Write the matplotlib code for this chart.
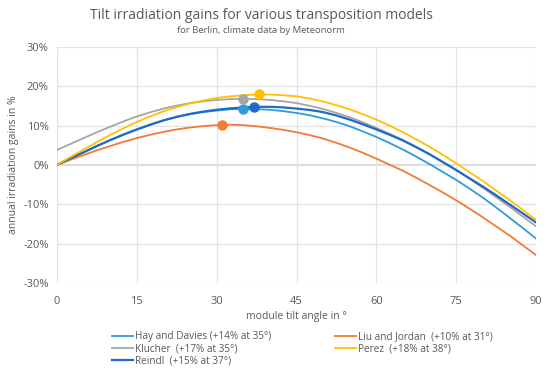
import matplotlib.pyplot as plt
from matplotlib.ticker import FuncFormatter

plt.rcParams['font.family'] = ['Open Sans', 'DejaVu Sans']

# tilt angles in degrees
angles = [0, 2.5, 5, 7.5, 10, 12.5, 15, 17.5, 20, 22.5, 25, 27.5, 30, 32.5, 35, 37.5,
          40, 42.5, 45, 47.5, 50, 52.5, 55, 57.5, 60, 62.5, 65, 67.5, 70, 72.5, 75,
          77.5, 80, 82.5, 85, 87.5, 90]

# annual irradiation gains in %
hay = [0, 1.65, 3.2, 4.8, 6.3, 7.7, 9.0, 10.2, 11.3, 12.2, 12.9, 13.4, 13.8, 14.1, 14.2, 14.15,
       14.0, 13.65, 13.2, 12.6, 11.8, 10.9, 9.8, 8.5, 7.1, 5.55, 3.9, 2.1, 0.2, -1.8, -3.8,
       -6.0, -8.3, -10.8, -13.4, -16.0, -18.7]
liu = [0, 1.3, 2.5, 3.7, 4.8, 5.85, 6.8, 7.65, 8.4, 9.0, 9.5, 9.85, 10.1, 10.2, 10.1, 9.8,
       9.4, 8.9, 8.3, 7.55, 6.7, 5.6, 4.4, 3.05, 1.6, 0.05, -1.5, -3.25, -5.1, -7.0, -9.0,
       -11.1, -13.3, -15.6, -17.9, -20.4, -22.9]
klucher = [3.8, 5.3, 6.8, 8.3, 9.7, 11.05, 12.3, 13.35, 14.3, 15.05, 15.7, 16.15, 16.5, 16.7, 16.75, 16.7,
           16.5, 16.15, 15.7, 15.0, 14.2, 13.2, 12.1, 10.8, 9.4, 7.9, 6.3, 4.55, 2.7, 0.75, -1.3,
           -3.5, -5.8, -8.2, -10.6, -13.1, -15.6]
perez = [0, 2.0, 3.9, 5.8, 7.6, 9.3, 10.9, 12.3, 13.6, 14.65, 15.6, 16.35, 17.0, 17.4, 17.7, 17.85,
         17.85, 17.7, 17.4, 16.85, 16.1, 15.15, 14.1, 12.85, 11.5, 9.95, 8.3, 6.5, 4.6, 2.55, 0.4,
         -1.85, -4.1, -6.5, -8.9, -11.4, -14.0]
reindl = [0, 1.65, 3.2, 4.8, 6.3, 7.7, 9.0, 10.2, 11.3, 12.2, 12.95, 13.55, 14.0, 14.35, 14.6, 14.75,
          14.75, 14.6, 14.3, 13.95, 13.4, 12.55, 11.5, 10.3, 9.0, 7.65, 6.2, 4.5, 2.7, 0.7, -1.3,
          -3.4, -5.5, -7.7, -10.0, -12.3, -14.6]

# optimum points (angle, gain)
opt_angle = {'hay': 35, 'liu': 31, 'klucher': 35, 'perez': 38, 'reindl': 37}
opt_gain = {'hay': 14.2, 'liu': 10.2, 'klucher': 16.75, 'perez': 17.9, 'reindl': 14.8}

labels = {
    'hay': 'Hay and Davies (+14% at 35°)',
    'liu': 'Liu and Jordan  (+10% at 31°)',
    'klucher': 'Klucher  (+17% at 35°)',
    'perez': 'Perez  (+18% at 38°)',
    'reindl': 'Reindl  (+15% at 37°)',
}
colors = {'hay': '#2E9BDA', 'liu': '#F27B35', 'klucher': '#A5A5A5',
          'perez': '#FFC000', 'reindl': '#1F6BC4'}
series = {'hay': hay, 'liu': liu, 'klucher': klucher, 'perez': perez, 'reindl': reindl}

fig = plt.figure(figsize=(5.5, 3.71), dpi=100)
ax = fig.add_axes([0.1036, 0.237, 0.871, 0.637])

handles = {}
for key in ['liu', 'hay', 'klucher', 'reindl', 'perez']:
    lw = 1.6 if key == 'reindl' else 1.3
    line, = ax.plot(angles, series[key], color=colors[key], lw=lw, label=labels[key], zorder=3)
    handles[key] = line
    ax.plot(opt_angle[key], opt_gain[key], 'o', color=colors[key], ms=6.5, zorder=4)

ax.set_xlim(0, 90)
ax.set_ylim(-30, 30)
ax.set_xticks(range(0, 91, 15))
ax.set_yticks(range(-30, 31, 10))
ax.yaxis.set_major_formatter(FuncFormatter(lambda v, p: f'{int(v)}%'))
ax.grid(True, color='#E3E3E3', lw=0.9)
ax.axhline(0, color='#D4D4D4', lw=1.4, zorder=1)
for s in ax.spines.values():
    s.set_visible(False)
ax.tick_params(length=0, labelsize=8, colors='#595959', pad=6)
ax.tick_params(axis='x', pad=9)

ax.set_xlabel('module tilt angle in °', fontsize=7.5, color='#595959', labelpad=3)
ax.set_ylabel('annual irradiation gains in %', fontsize=7.5, color='#595959', labelpad=3)

fig.text(0.475, 0.957, 'Tilt irradiation gains for various transposition models',
         ha='center', va='center', fontsize=10, color='#595959')
fig.text(0.475, 0.919, 'for Berlin, climate data by Meteonorm',
         ha='center', va='center', fontsize=6.8, color='#595959')

order = ['hay', 'klucher', 'reindl', 'liu', 'perez']
leg = fig.legend([handles[k] for k in order], [labels[k] for k in order],
                 ncol=2, loc='upper left', bbox_to_anchor=(0.197, 0.118),
                 frameon=False, fontsize=7.2, handlelength=2.1, handletextpad=0.15,
                 columnspacing=6.4, labelspacing=0.1, borderaxespad=0)
for t in leg.get_texts():
    t.set_color('#595959')

fig.savefig('out.png', dpi=100)
